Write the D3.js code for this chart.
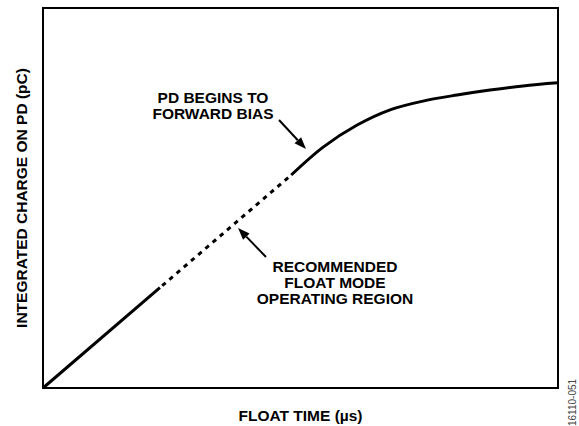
<!DOCTYPE html>
<html>
<head>
<meta charset="utf-8">
<script src="https://cdn.jsdelivr.net/npm/d3@7"></script>
<style>
  html, body { margin: 0; padding: 0; background: #fff; }
  svg { display: block; }
  text { font-family: "Liberation Sans", Arial, sans-serif; font-weight: bold; fill: #000; }
</style>
</head>
<body>
<svg id="chart" width="579" height="426"></svg>
<script>
// Charge accumulated on the photodiode vs. float time (arbitrary units, 0–100)
const linearStart   = [0, 0];
const solidLinearEnd = [22.7, 26.4];     // end of the first solid stretch
const dottedEnd      = [48.2, 56.05];    // end of the recommended (dotted) region
const saturationX = [48.2, 54.4, 61.0, 67.4, 73.8, 80.4, 86.8, 93.2, 100];
const saturationY = [56.05, 63.4, 69.2, 73.2, 75.5, 77.1, 78.4, 79.5, 80.3];

const xAxisTitle = "FLOAT TIME (µs)";
const yAxisTitle = "INTEGRATED CHARGE ON PD (pC)";
const noteForward = ["PD BEGINS TO", "FORWARD BIAS"];
const noteRegion  = ["RECOMMENDED", "FLOAT MODE", "OPERATING REGION"];
const figureId = "16110-051";

const svg = d3.select("#chart");
const x = d3.scaleLinear().domain([0, 100]).range([43, 558]);
const y = d3.scaleLinear().domain([0, 100]).range([388, 8]);

const line = d3.line().x(d => x(d[0])).y(d => y(d[1]));
const smooth = d3.line().x(d => x(d[0])).y(d => y(d[1])).curve(d3.curveCatmullRom.alpha(0.5));

// plot frame
svg.append("rect")
  .attr("x", x(0)).attr("y", y(100))
  .attr("width", x(100) - x(0)).attr("height", y(0) - y(100))
  .attr("fill", "none").attr("stroke", "#000").attr("stroke-width", 2);

const fontSize = 15.5;

// linear part, solid then dotted
svg.append("path").datum([linearStart, solidLinearEnd]).attr("d", line)
  .attr("fill", "none").attr("stroke", "#000").attr("stroke-width", 3);
svg.append("path").datum([solidLinearEnd, dottedEnd]).attr("d", line)
  .attr("fill", "none").attr("stroke", "#000").attr("stroke-width", 3)
  .attr("stroke-dasharray", "4.5,5").attr("stroke-dashoffset", -3);

// saturating part
svg.append("path").datum(saturationX.map((v, i) => [v, saturationY[i]])).attr("d", smooth)
  .attr("fill", "none").attr("stroke", "#000").attr("stroke-width", 3);

// arrows
function arrow(x1, y1, x2, y2) {
  const ang = Math.atan2(y2 - y1, x2 - x1);
  const L = 12, W = 4.5;
  const bx = x2 - L * Math.cos(ang), by = y2 - L * Math.sin(ang);
  svg.append("line").attr("x1", x1).attr("y1", y1).attr("x2", bx).attr("y2", by)
    .attr("stroke", "#000").attr("stroke-width", 2);
  const px = -Math.sin(ang) * W, py = Math.cos(ang) * W;
  svg.append("path")
    .attr("d", `M${x2},${y2}L${bx + px},${by + py}L${bx - px},${by - py}Z`)
    .attr("fill", "#000");
}
arrow(279, 120, 306, 149);
arrow(266, 257, 238, 228);

// annotations
function note(lines, cx, firstBaseline, step) {
  const t = svg.append("text").attr("text-anchor", "middle").attr("font-size", fontSize);
  lines.forEach((s, i) => t.append("tspan").attr("x", cx).attr("y", firstBaseline + i * step).text(s));
}
note(noteForward, 213, 103, 16);
note(noteRegion, 335, 272, 16);

// axis titles
svg.append("text").attr("x", (x(0) + x(100)) / 2).attr("y", 421)
  .attr("text-anchor", "middle").attr("font-size", fontSize).text(xAxisTitle);
svg.append("text").attr("transform", `translate(27,${(y(0) + y(100)) / 2}) rotate(-90)`)
  .attr("text-anchor", "middle").attr("font-size", fontSize).text(yAxisTitle);

// figure number
svg.append("text").attr("transform", "translate(576,426) rotate(-90)")
  .attr("text-anchor", "start").attr("font-size", 10)
  .style("font-weight", "normal").style("fill", "#444").text(figureId);
</script>
</body>
</html>
